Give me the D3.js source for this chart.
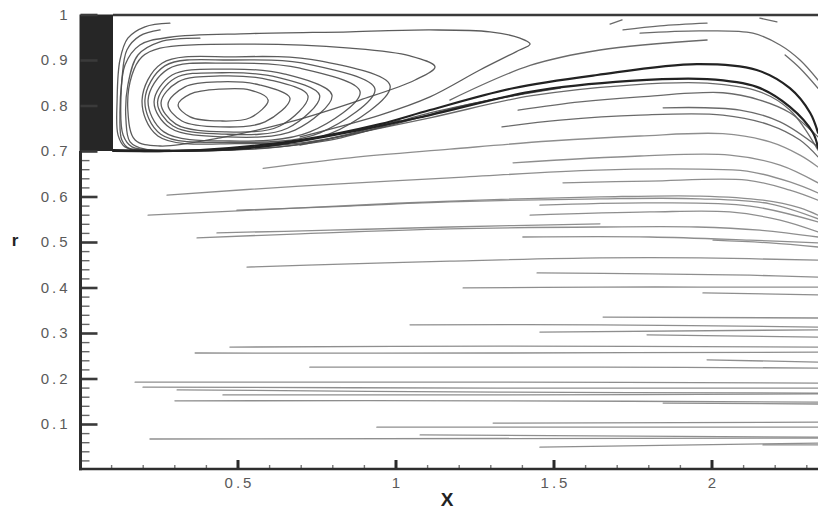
<!DOCTYPE html>
<html>
<head>
<meta charset="utf-8">
<script src="https://cdn.jsdelivr.net/npm/d3@7"></script>
<style>
  html, body { margin: 0; padding: 0; background: #fff; }
  svg { display: block; }
  text { font-family: "Liberation Sans", Arial, Helvetica, sans-serif; }
</style>
</head>
<body>
<svg id="chart" width="818" height="510"></svg>
<script>
// ---- Axis ticks --------------------------------------------------------
const xTickMajor = [0.5, 1, 1.5, 2];
const xTickLabels = ["0.5", "1", "1.5", "2"];
const xTickMinor = [0.1, 0.2, 0.3, 0.4, 0.6, 0.7, 0.8, 0.9, 1.1, 1.2, 1.3, 1.4,
                    1.6, 1.7, 1.8, 1.9, 2.1, 2.2, 2.3];
const yTickMajor = [0.1, 0.2, 0.3, 0.4, 0.5, 0.6, 0.7, 0.8, 0.9, 1];
const yTickLabels = ["0.1", "0.2", "0.3", "0.4", "0.5", "0.6", "0.7", "0.8", "0.9", "1"];
const yTickMinor = [0.02, 0.04, 0.06, 0.08, 0.12, 0.14, 0.16, 0.18, 0.22, 0.24, 0.26, 0.28,
                    0.32, 0.34, 0.36, 0.38, 0.42, 0.44, 0.46, 0.48, 0.52, 0.54, 0.56, 0.58,
                    0.62, 0.64, 0.66, 0.68];

// ---- Solid centre body (x range, r range) -------------------------------
const bodyX = [0, 0.106];
const bodyR = [0.7, 1.0];

// ---- Recirculation bubble: closed streamlines around the vortex eye -----
const vortexRings = [
  [[0.597,0.812],[0.540,0.834],[0.445,0.836],[0.350,0.825],[0.312,0.801],[0.350,0.775],[0.445,0.766],[0.540,0.773]],
  [[0.666,0.816],[0.571,0.845],[0.445,0.852],[0.334,0.841],[0.280,0.803],[0.324,0.766],[0.445,0.753],[0.587,0.764]],
  [[0.723,0.821],[0.603,0.856],[0.445,0.865],[0.312,0.852],[0.258,0.806],[0.305,0.759],[0.460,0.742],[0.634,0.755]],
  [[0.760,0.822],[0.627,0.862],[0.452,0.872],[0.302,0.860],[0.247,0.807],[0.296,0.755],[0.460,0.737],[0.658,0.750]],
  [[0.799,0.823],[0.650,0.869],[0.460,0.880],[0.293,0.867],[0.236,0.808],[0.286,0.751],[0.460,0.731],[0.682,0.746]],
  [[0.888,0.830],[0.698,0.882],[0.476,0.893],[0.280,0.880],[0.217,0.812],[0.267,0.742],[0.476,0.722],[0.729,0.742]],
  [[0.935,0.836],[0.730,0.890],[0.484,0.900],[0.270,0.887],[0.207,0.812],[0.257,0.737],[0.484,0.719],[0.761,0.740]],
  [[0.983,0.843],[0.761,0.898],[0.492,0.907],[0.261,0.893],[0.198,0.812],[0.248,0.733],[0.492,0.716],[0.793,0.738]],
  [[0.255,0.926],[0.540,0.935],[0.856,0.926],[1.046,0.909],[1.125,0.885],[1.062,0.856],[0.888,0.812],[0.666,0.764],
   [0.445,0.729],[0.255,0.711],[0.176,0.724],[0.153,0.790],[0.166,0.867],[0.198,0.907]]
];

// ---- Streamlines sweeping down the body face and out along the shear layer
const wallSweeps = [
  [[0.286,0.981],[0.207,0.973],[0.153,0.948],[0.128,0.900],[0.119,0.812],[0.122,0.735],[0.144,0.709],[0.223,0.702],
   [0.476,0.702],[0.793,0.724],[1.109,0.784],[1.394,0.825]],
  [[0.255,0.966],[0.191,0.953],[0.150,0.922],[0.134,0.856],[0.128,0.779],[0.134,0.724],[0.160,0.704],[0.318,0.700],
   [0.634,0.709],[0.951,0.751],[1.236,0.803],[1.521,0.838]],
  [[0.381,0.948],[0.255,0.940],[0.185,0.911],[0.153,0.845],[0.147,0.768],[0.160,0.720],[0.207,0.704],[0.445,0.704],
   [0.761,0.724],[1.014,0.768]],
  [[0.698,0.731],[0.951,0.779],[1.109,0.819],[1.267,0.878],[1.381,0.918],[1.426,0.935],[1.394,0.948],[1.299,0.962],
   [1.109,0.966],[0.856,0.962],[0.540,0.958],[0.286,0.950],[0.191,0.933],[0.144,0.889],[0.131,0.812],[0.138,0.735],
   [0.166,0.709],[0.286,0.702]]
];

// ---- Dividing streamlines leaving the body corner ----------------------
const dividingLines = [
  [[0.106,0.702],[0.381,0.702],[0.698,0.724],[0.951,0.759],[1.109,0.790],[1.372,0.838],[1.638,0.867],[1.954,0.891],
   [2.143,0.878],[2.248,0.838],[2.312,0.784],[2.337,0.740]],
  [[0.106,0.700],[0.540,0.707],[0.856,0.742],[1.109,0.779],[1.426,0.830],[1.742,0.854],[1.986,0.858],[2.143,0.841],
   [2.248,0.797],[2.321,0.740],[2.337,0.707]]
];

// ---- Outer streamlines above the shear layer, turning down at the exit --
const upperLines = [
  [[0.698,0.713],[1.109,0.773],[1.426,0.821],[1.742,0.845],[1.986,0.849],[2.153,0.830],[2.248,0.790],[2.337,0.702]],
  [[1.172,0.812],[1.426,0.888],[1.647,0.922],[1.986,0.944]],
  [[1.720,0.966],[1.837,0.975],[1.986,0.981]],
  [[1.679,0.979],[1.717,0.988]],
  [[1.774,0.959],[1.963,0.964],[2.131,0.959],[2.217,0.933],[2.280,0.900],[2.337,0.856]],
  [[2.233,0.911],[2.280,0.882],[2.337,0.838]],
  [[2.153,0.992],[2.207,0.984]],
  [[1.388,0.790],[1.584,0.808],[1.774,0.819],[2.036,0.828],[2.153,0.812],[2.248,0.784],[2.337,0.731]],
  [[1.847,0.795],[2.090,0.790],[2.217,0.764],[2.337,0.709]],
  [[1.337,0.753],[1.521,0.768],[1.774,0.779],[2.036,0.779],[2.185,0.757],[2.280,0.724],[2.337,0.687]]
];

// ---- Through-flow streamlines below the bubble -------------------------
const wakeLines = [
  [[0.581,0.662],[0.856,0.685],[1.172,0.704],[1.489,0.722],[1.774,0.733],[2.036,0.738],[2.185,0.720],[2.280,0.691],[2.337,0.665]],
  [[1.372,0.674],[1.774,0.689],[2.058,0.691],[2.217,0.669],[2.337,0.630]],
  [[0.277,0.603],[0.698,0.623],[1.172,0.641],[1.638,0.658],[1.963,0.660],[2.112,0.656],[2.248,0.632],[2.337,0.608]],
  [[1.530,0.630],[1.805,0.634],[2.112,0.636],[2.248,0.614],[2.337,0.592]],
  [[0.217,0.559],[0.698,0.575],[1.172,0.590],[1.647,0.599],[1.963,0.601],[2.163,0.592],[2.280,0.575],[2.337,0.559]],
  [[0.498,0.570],[0.856,0.579],[1.172,0.588],[1.647,0.595],[1.963,0.595],[2.185,0.584],[2.337,0.551]],
  [[1.457,0.581],[1.805,0.586],[2.122,0.579],[2.337,0.544]],
  [[1.426,0.559],[1.805,0.566],[2.058,0.566],[2.217,0.548],[2.337,0.522]],
  [[0.372,0.509],[0.698,0.518],[1.172,0.529],[1.647,0.533],[1.954,0.533],[2.153,0.526],[2.337,0.511]],
  [[0.435,0.520],[0.793,0.526],[1.172,0.533],[1.647,0.540]],
  [[1.403,0.511],[1.805,0.511],[2.122,0.504],[2.337,0.498]],
  [[2.005,0.504],[2.185,0.498],[2.337,0.489]],
  [[0.530,0.445],[0.856,0.452],[1.172,0.458],[1.647,0.465],[1.963,0.465],[2.337,0.460]],
  [[1.448,0.432],[1.805,0.430],[2.122,0.427],[2.337,0.423]],
  [[1.214,0.399],[1.647,0.401],[1.963,0.401],[2.337,0.401]],
  [[1.973,0.388],[2.337,0.384]],
  [[1.657,0.335],[2.337,0.333]],
  [[1.046,0.318],[1.647,0.318],[2.337,0.313]],
  [[1.457,0.302],[2.337,0.307]],
  [[1.796,0.296],[2.337,0.291]],
  [[0.476,0.269],[1.331,0.271],[2.337,0.269]],
  [[0.366,0.256],[1.331,0.256],[2.337,0.258]],
  [[1.986,0.241],[2.337,0.236]],
  [[0.729,0.225],[1.647,0.225],[2.337,0.223]],
  [[0.176,0.192],[1.331,0.192],[2.337,0.190]],
  [[0.201,0.181],[1.331,0.179],[2.337,0.179]],
  [[0.309,0.175],[1.331,0.170],[2.337,0.168]],
  [[0.454,0.164],[1.362,0.164],[2.337,0.166]],
  [[0.302,0.151],[1.331,0.151],[2.337,0.148]],
  [[1.847,0.146],[2.337,0.144]],
  [[0.941,0.093],[2.337,0.093]],
  [[1.309,0.102],[2.337,0.104]],
  [[1.078,0.076],[2.337,0.071]],
  [[0.223,0.067],[2.337,0.069]],
  [[1.457,0.049],[2.337,0.058]],
  [[2.163,0.054],[2.337,0.054]]
];

// ---- Scales -------------------------------------------------------------
const svg = d3.select("#chart");
const W = 818, H = 510;
const x = d3.scaleLinear().domain([0, 1]).range([79.5, 395.5]);
const y = d3.scaleLinear().domain([0, 1]).range([469.5, 14.5]);

svg.append("defs").append("clipPath").attr("id", "plotClip")
  .append("rect")
  .attr("x", x(0)).attr("y", y(1))
  .attr("width", W - x(0)).attr("height", y(0) - y(1));

const plot = svg.append("g").attr("clip-path", "url(#plotClip)");

const openLine = d3.line()
  .x(d => x(d[0])).y(d => y(d[1]))
  .curve(d3.curveCatmullRom.alpha(0.5));
const closedLine = d3.line()
  .x(d => x(d[0])).y(d => y(d[1]))
  .curve(d3.curveCatmullRomClosed.alpha(0.5));

function drawLines(data, gen, color, width, opacity) {
  plot.append("g")
    .selectAll("path")
    .data(data)
    .join("path")
    .attr("d", gen)
    .attr("fill", "none")
    .attr("stroke", color)
    .attr("stroke-width", width)
    .attr("stroke-opacity", opacity)
    .attr("stroke-linecap", "round");
}

drawLines(wakeLines, openLine, "#7a7a7a", 1.3, 0.85);
drawLines(upperLines, openLine, "#5a5a5a", 1.3, 0.9);
drawLines(vortexRings, closedLine, "#4a4a4a", 1.3, 0.9);
drawLines(wallSweeps, openLine, "#4a4a4a", 1.3, 0.9);
drawLines(dividingLines, openLine, "#222", 2.2, 1);

// ---- Centre body and top boundary ---------------------------------------
svg.append("rect")
  .attr("x", x(bodyX[0])).attr("y", y(bodyR[1]))
  .attr("width", x(bodyX[1]) - x(bodyX[0]))
  .attr("height", y(bodyR[0]) - y(bodyR[1]))
  .attr("fill", "#262626");

svg.append("line")
  .attr("x1", x(bodyX[1])).attr("x2", W)
  .attr("y1", y(1) + 0.5).attr("y2", y(1) + 0.5)
  .attr("stroke", "#3a3a3a").attr("stroke-width", 2.5);

// ---- Axes ---------------------------------------------------------------
const axisX0 = x(0) + 1;
const axisY0 = y(0) - 0.5;

function styleTicks(g, color, width) {
  g.select(".domain").remove();
  g.selectAll(".tick line").attr("stroke", color).attr("stroke-width", width);
}

svg.append("g")
  .attr("transform", `translate(${axisX0},0)`)
  .call(d3.axisLeft(y).tickValues(yTickMinor).tickSize(-9).tickFormat(""))
  .call(g => styleTicks(g, "#666", 1.4));

svg.append("g")
  .attr("transform", `translate(${axisX0},0)`)
  .call(d3.axisLeft(y).tickValues(yTickMajor).tickSize(-17).tickPadding(10)
        .tickFormat((d, i) => yTickLabels[i]))
  .call(g => styleTicks(g, "#3a3a3a", 2.6))
  .call(g => g.selectAll(".tick text")
        .attr("font-size", 15).attr("fill", "#5a5a5a")
        .attr("letter-spacing", "3px").attr("font-family", null));

svg.append("g")
  .attr("transform", `translate(0,${axisY0})`)
  .call(d3.axisBottom(x).tickValues(xTickMinor).tickSize(-4).tickFormat(""))
  .call(g => styleTicks(g, "#777", 1.4));

svg.append("g")
  .attr("transform", `translate(0,${axisY0})`)
  .call(d3.axisBottom(x).tickValues(xTickMajor).tickSize(-9).tickPadding(8)
        .tickFormat((d, i) => xTickLabels[i]))
  .call(g => styleTicks(g, "#2a2a2a", 3))
  .call(g => g.selectAll(".tick text")
        .attr("font-size", 15).attr("fill", "#5a5a5a")
        .attr("letter-spacing", "3px").attr("font-family", null)
        .attr("dx", "1.5px"));

// body-side vertical axis line below the body and the bottom axis line
svg.append("line")
  .attr("x1", axisX0).attr("x2", axisX0)
  .attr("y1", y(bodyR[0])).attr("y2", axisY0 + 1.3)
  .attr("stroke", "#2e2e2e").attr("stroke-width", 3);
svg.append("line")
  .attr("x1", axisX0 - 1.5).attr("x2", W)
  .attr("y1", axisY0).attr("y2", axisY0)
  .attr("stroke", "#2e2e2e").attr("stroke-width", 2.6);

// ---- Axis titles --------------------------------------------------------
svg.append("text")
  .attr("x", 447).attr("y", 506)
  .attr("text-anchor", "middle")
  .attr("font-size", 19).attr("font-weight", "bold").attr("fill", "#222")
  .text("X");

svg.append("text")
  .attr("x", 15).attr("y", 246)
  .attr("text-anchor", "middle")
  .attr("font-size", 17).attr("font-weight", "bold").attr("fill", "#222")
  .text("r");
</script>
</body>
</html>
